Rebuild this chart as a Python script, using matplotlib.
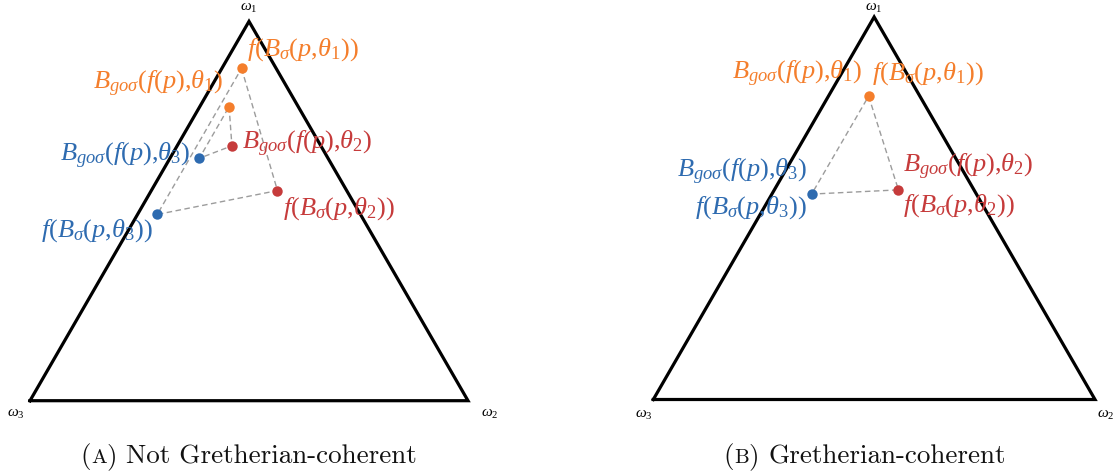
import numpy as np
import matplotlib
matplotlib.use("Agg")
import matplotlib.pyplot as plt

plt.rcParams['mathtext.fontset'] = 'custom'
plt.rcParams['mathtext.rm'] = 'Liberation Serif'
plt.rcParams['mathtext.it'] = 'Liberation Serif:italic'
plt.rcParams['mathtext.bf'] = 'Liberation Serif:bold'

# ---------------- data (barycentric weights on omega1, omega2) ----------------
thetas = ["1", "2", "3"]
series_colors = ["#F47E2C", "#C63B3B", "#2E6BB0"]

# Panel A: not Gretherian-coherent
A_f_w1 = [0.876, 0.554, 0.491]   # f(B_sigma(p, theta_i))
A_f_w2 = [0.045, 0.288, 0.045]
A_B_w1 = [0.775, 0.672, 0.639]   # B_{go sigma}(f(p), theta_i)
A_B_w2 = [0.067, 0.125, 0.067]

# Panel B: Gretherian-coherent (both coincide)
B_f_w1 = [0.793, 0.548, 0.537]
B_f_w2 = [0.091, 0.281, 0.090]
B_B_w1 = B_f_w1
B_B_w2 = B_f_w2

vertex_labels = [r"$\omega_1$", r"$\omega_2$", r"$\omega_3$"]
captions = [("A", "Not Gretherian-coherent"), ("B", "Gretherian-coherent")]

# ---------------- helpers ----------------
W, H = 1116, 474
S3 = np.sqrt(3) / 2
PX = 0.72  # points per pixel


def to_xy(w1, w2):
    w1 = np.asarray(w1, float)
    w2 = np.asarray(w2, float)
    return w2 + 0.5 * w1, S3 * w1


def f_label(t):
    return r"$f(B_{\sigma}(p{,}\theta_{%s}))$" % t


def b_label(t):
    return r"$B_{go\sigma}(f(p){,}\theta_{%s})$" % t


fig = plt.figure(figsize=(W / 100, H / 100), dpi=100)


def make_ax(x0, ybase, width):
    h = width * S3
    ax = fig.add_axes([x0 / W, (H - ybase) / H, width / W, h / H])
    ax.set_xlim(0, 1)
    ax.set_ylim(0, S3)
    ax.axis('off')
    # simplex
    ax.plot([0, 1, 0.5, 0], [0, 0, S3, 0], color='black', lw=2.3,
            solid_joinstyle='miter', clip_on=False, zorder=2)
    return ax


def vertex_text(ax, offs):
    verts = [(0.5, S3), (1, 0), (0, 0)]
    for (vx, vy), lab, (dx, dy, ha) in zip(verts, vertex_labels, offs):
        ax.annotate(lab, (vx, vy), xytext=(dx * PX, dy * PX),
                    textcoords='offset points', ha=ha, va='baseline',
                    fontsize=11, color='black', annotation_clip=False)


def dashed_tri(ax, x, y):
    ax.plot(list(x) + [x[0]], list(y) + [y[0]], color='#9c9c9c', lw=1.0,
            dashes=(4, 2.5), zorder=3, clip_on=False)


def dots(ax, x, y):
    for xi, yi, c in zip(x, y, series_colors):
        ax.plot([xi], [yi], 'o', ms=7.5, color=c, mec='none', zorder=4,
                clip_on=False)


def labels(ax, x, y, texts, offs):
    for xi, yi, t, c, (dx, dy, ha) in zip(x, y, texts, series_colors, offs):
        ax.annotate(t, (xi, yi), xytext=(dx * PX, dy * PX),
                    textcoords='offset points', ha=ha, va='baseline',
                    fontsize=19, color=c, annotation_clip=False)


# ---------------- Panel A ----------------
axA = make_ax(30, 400.7, 438)
fx, fy = to_xy(A_f_w1, A_f_w2)
bx, by = to_xy(A_B_w1, A_B_w2)
dashed_tri(axA, fx, fy)
dashed_tri(axA, bx, by)
dots(axA, fx, fy)
dots(axA, bx, by)
labels(axA, fx, fy, [f_label(t) for t in thetas],
       [(5, 13, 'left'), (6, -24, 'left'), (-5, -22, 'right')])
labels(axA, bx, by, [b_label(t) for t in thetas],
       [(-6, 17, 'right'), (10, -4, 'left'), (-9, -3, 'right')])
vertex_text(axA, [(0, 10, 'center'), (13, -16, 'left'), (-5, -16, 'right')])

# ---------------- Panel B ----------------
axB = make_ax(653.3, 399.5, 441.7)
fx, fy = to_xy(B_f_w1, B_f_w2)
bx, by = to_xy(B_B_w1, B_B_w2)
dashed_tri(axB, fx, fy)
dots(axB, fx, fy)
labels(axB, fx, fy, [f_label(t) for t in thetas],
       [(3, 17, 'left'), (5, -22, 'left'), (-5, -19, 'right')])
labels(axB, bx, by, [b_label(t) for t in thetas],
       [(-6, 17, 'right'), (5, 17, 'left'), (-5, 17, 'right')])
vertex_text(axB, [(0, 6, 'center'), (2, -18, 'left'), (-1, -18, 'right')])

# ---------------- captions with small-caps letter ----------------
renderer = fig.canvas.get_renderer()
cap_centers = [249, 865]
cap_base = 463
for (letter, rest), cx in zip(captions, cap_centers):
    parts = [("(", 19.5), (letter, 15), (") ", 19.5), (rest, 19.5)]
    texts = []
    for s, fs in parts:
        t = fig.text(0, 1 - cap_base / H, s, fontsize=fs, family='cmr10',
                     ha='left', va='baseline', color='#111111')
        texts.append(t)
    widths = [t.get_window_extent(renderer).width for t in texts]
    total = sum(widths)
    x = cx - total / 2
    for t, w in zip(texts, widths):
        t.set_x(x / W)
        x += w

fig.savefig("out.png", dpi=100)
